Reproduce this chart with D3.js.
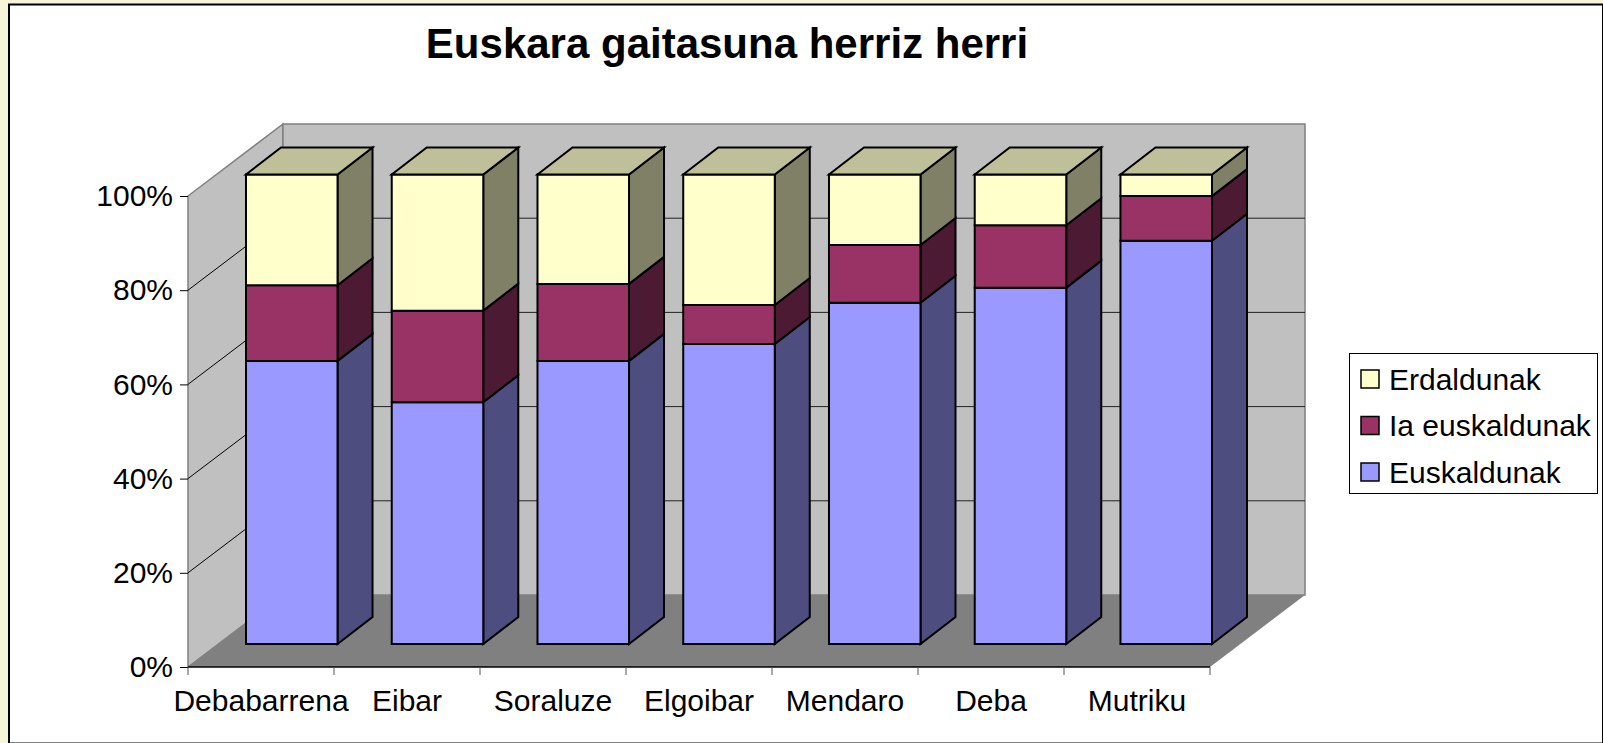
<!DOCTYPE html>
<html>
<head>
<meta charset="utf-8">
<script src="https://cdn.jsdelivr.net/npm/d3@7"></script>
<style>
html, body { margin: 0; padding: 0; background: #f8f4d8; overflow: hidden; }
svg { display: block; }
text { font-family: "Liberation Sans", Arial, sans-serif; fill: #000; }
</style>
</head>
<body>
<svg id="chart" width="1603" height="743"></svg>
<script>
const categories = ["Debabarrena", "Eibar", "Soraluze", "Elgoibar", "Mendaro", "Deba", "Mutriku"];
const euskaldunak = [60.3, 51.5, 60.3, 63.9, 72.7, 75.9, 85.9];
const iaEuskaldunak = [16.1, 19.5, 16.4, 8.3, 12.3, 13.3, 9.5];
const erdaldunak = [23.6, 29.0, 23.3, 27.8, 15.0, 10.8, 4.6];
const seriesNames = ["Euskaldunak", "Ia euskaldunak", "Erdaldunak"];
const yTicks = [0, 20, 40, 60, 80, 100];

const faceColors = ["#9999ff", "#993366", "#ffffcc"];
const sideColors = ["#4d4d80", "#4d1a33", "#808066"];
const topColor = "#bfbf99";

const svg = d3.select("#chart");

// page frame: cream margin, black line on the left and top only
svg.append("rect").attr("x", 9).attr("y", 4.5).attr("width", 1594).attr("height", 739)
    .attr("fill", "#fff").attr("stroke", "#000").attr("stroke-width", 2);

// front plane of the box, back plane, and the plane the bars stand on
const x = d3.scaleBand().domain(categories).range([188, 1210]);
const y = d3.scaleLinear().domain([0, 100]).range([667, 196]);
const yBack = d3.scaleLinear().domain([0, 100]).range([595, 124]);
const yBar = d3.scaleLinear().domain([0, 100]).range([644, 174.5]);
const xBar = d3.scaleBand().domain(categories).range([246, 1212]).paddingInner(0.372);

const depthX = 95;
const barDepthX = 35, barDepthY = 27;

const poly = (pts) => d3.line()(pts) + "Z";

// walls and floor
const box = svg.append("g");
box.append("path")
    .attr("d", poly([[188, y(100)], [188 + depthX, yBack(100)], [188 + depthX, yBack(0)], [188, y(0)]]))
    .attr("fill", "#c0c0c0").attr("stroke", "#808080").attr("stroke-width", 1.5);
box.append("path")
    .attr("d", poly([[188 + depthX, yBack(100)], [1210 + depthX, yBack(100)], [1210 + depthX, yBack(0)], [188 + depthX, yBack(0)]]))
    .attr("fill", "#c0c0c0").attr("stroke", "#808080").attr("stroke-width", 1.5);
box.append("path")
    .attr("d", poly([[188, y(0)], [188 + depthX, yBack(0)], [1210 + depthX, yBack(0)], [1210, y(0)]]))
    .attr("fill", "#808080");

// gridlines on the left wall and the back wall
const gridTicks = yTicks.filter((t) => t > 0 && t < 100);
box.selectAll(".gridSide").data(gridTicks).enter().append("line")
    .attr("class", "gridSide")
    .attr("x1", 188).attr("y1", (d) => y(d))
    .attr("x2", 188 + depthX).attr("y2", (d) => yBack(d))
    .attr("stroke", "#000").attr("stroke-width", 1);
box.selectAll(".gridBack").data(gridTicks).enter().append("line")
    .attr("class", "gridBack")
    .attr("x1", 188 + depthX).attr("y1", (d) => yBack(d))
    .attr("x2", 1210 + depthX).attr("y2", (d) => yBack(d))
    .attr("stroke", "#222").attr("stroke-width", 1);

// bars, one stack per category
const stacked = d3.stack().keys([0, 1, 2])(categories.map((c, i) => [euskaldunak[i], iaEuskaldunak[i], erdaldunak[i]]));
const barStroke = { stroke: "#000", width: 2 };

categories.forEach((cat, i) => {
    const g = svg.append("g").attr("class", "bar");
    const left = xBar(cat);
    const right = left + xBar.bandwidth();
    stacked.forEach((layer, s) => {
        const y0 = yBar(layer[i][0]);
        const y1 = yBar(layer[i][1]);
        g.append("path")
            .attr("d", poly([[right, y1], [right + barDepthX, y1 - barDepthY], [right + barDepthX, y0 - barDepthY], [right, y0]]))
            .attr("fill", sideColors[s]).attr("stroke", barStroke.stroke).attr("stroke-width", barStroke.width);
        g.append("path")
            .attr("d", poly([[left, y1], [right, y1], [right, y0], [left, y0]]))
            .attr("fill", faceColors[s]).attr("stroke", barStroke.stroke).attr("stroke-width", barStroke.width);
        if (s === stacked.length - 1) {
            g.append("path")
                .attr("d", poly([[left, y1], [left + barDepthX, y1 - barDepthY], [right + barDepthX, y1 - barDepthY], [right, y1]]))
                .attr("fill", topColor).attr("stroke", barStroke.stroke).attr("stroke-width", barStroke.width);
        }
    });
});

// axes
const yAxis = d3.axisLeft(y).tickValues(yTicks).tickFormat((d) => d + "%").tickSize(8).tickPadding(7);
const yAxisG = svg.append("g").attr("class", "yAxis").attr("transform", "translate(188,0)").call(yAxis);
yAxisG.select(".domain").remove();
yAxisG.selectAll("text").attr("font-size", 30).style("font-family", '"Liberation Sans", Arial, sans-serif');
yAxisG.selectAll("line").attr("stroke", "#000");

const xAxis = d3.axisBottom(x).tickSize(0).tickPadding(22.4);
const xAxisG = svg.append("g").attr("class", "xAxis").attr("transform", "translate(0," + y(0) + ")").call(xAxis);
xAxisG.select(".domain").remove();
xAxisG.selectAll("text").attr("font-size", 30).attr("textLength", null);

svg.append("line").attr("x1", 188).attr("x2", 1210).attr("y1", y(0)).attr("y2", y(0))
    .attr("stroke", "#000").attr("stroke-width", 1.5);
svg.selectAll(".xTick").data(categories.map((c) => x(c)).concat(x.range()[1])).enter().append("line")
    .attr("class", "xTick")
    .attr("x1", (d) => d).attr("x2", (d) => d)
    .attr("y1", y(0)).attr("y2", y(0) + 8)
    .attr("stroke", "#555").attr("stroke-width", 1);

// title
svg.append("text").attr("x", 727).attr("y", 58).attr("text-anchor", "middle")
    .attr("font-size", 42).attr("font-weight", "bold").text("Euskara gaitasuna herriz herri");

// legend
const legend = svg.append("g").attr("class", "legend");
legend.append("rect").attr("x", 1349.5).attr("y", 353.5).attr("width", 248).attr("height", 140)
    .attr("fill", "#fff").attr("stroke", "#000").attr("stroke-width", 1);
const legendOrder = [2, 1, 0];
const legendY = d3.scalePoint().domain(legendOrder).range([379, 472]);
legendOrder.forEach((s) => {
    legend.append("rect").attr("x", 1361).attr("y", legendY(s) - 9).attr("width", 18).attr("height", 18)
        .attr("fill", faceColors[s]).attr("stroke", "#000").attr("stroke-width", 1.5);
    legend.append("text").attr("x", 1389).attr("y", legendY(s) + 10.5)
        .attr("font-size", 30).text(seriesNames[s]);
});
</script>
</body>
</html>
